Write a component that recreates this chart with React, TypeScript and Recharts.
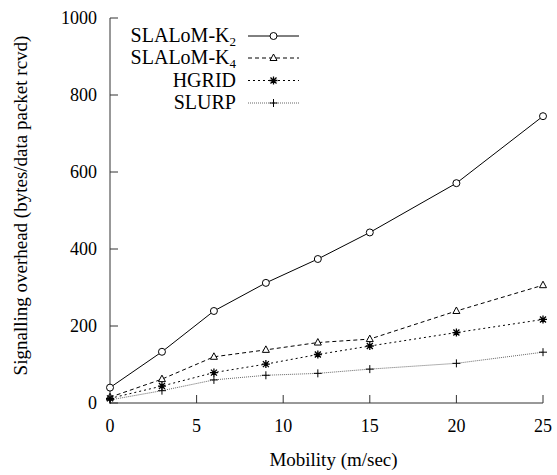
import React from "react";
import { LineChart, Line, XAxis, YAxis } from "recharts";

const MOBILITY = [0, 3, 6, 9, 12, 15, 20, 25];
const SLALOM_K2 = [40, 133, 239, 312, 374, 443, 571, 745];
const SLALOM_K4 = [15, 62, 120, 138, 157, 166, 239, 306];
const HGRID = [12, 44, 79, 101, 126, 148, 183, 217];
const SLURP = [8, 32, 60, 72, 77, 88, 103, 132];

const X_TICKS = [0, 5, 10, 15, 20, 25];
const Y_TICKS = [0, 200, 400, 600, 800, 1000];

const FONT = "Liberation Serif, Times New Roman, serif";
const AXIS = "#333";

const data = MOBILITY.map((m, i) => ({
  mobility: m,
  k2: SLALOM_K2[i],
  k4: SLALOM_K4[i],
  hgrid: HGRID[i],
  slurp: SLURP[i],
}));

type Pt = { cx?: number; cy?: number; index?: number };

function CircleMark({ cx, cy }: Pt) {
  if (cx == null || cy == null) return <g />;
  return <circle cx={cx} cy={cy} r={3.5} fill="#fff" stroke="#000" strokeWidth={1} />;
}

function TriangleMark({ cx, cy }: Pt) {
  if (cx == null || cy == null) return <g />;
  return (
    <polygon
      points={`${cx},${cy - 4} ${cx - 3.5},${cy + 2.5} ${cx + 3.5},${cy + 2.5}`}
      fill="#fff"
      stroke="#000"
      strokeWidth={1}
    />
  );
}

function StarMark({ cx, cy }: Pt) {
  if (cx == null || cy == null) return <g />;
  const d = `M${cx - 4},${cy}H${cx + 4}M${cx},${cy - 4}V${cy + 4}M${cx - 3},${cy - 3}L${cx + 3},${cy + 3}M${cx - 3},${cy + 3}L${cx + 3},${cy - 3}`;
  return <path d={d} stroke="#000" strokeWidth={1.3} fill="none" />;
}

function PlusMark({ cx, cy }: Pt) {
  if (cx == null || cy == null) return <g />;
  const d = `M${cx - 4},${cy}H${cx + 4}M${cx},${cy - 4}V${cy + 4}`;
  return <path d={d} stroke="#000" strokeWidth={1} fill="none" />;
}

const SERIES = [
  { key: "k2", name: "SLALoM-K", sub: "2", stroke: "#000", dash: undefined, Mark: CircleMark },
  { key: "k4", name: "SLALoM-K", sub: "4", stroke: "#000", dash: "4 3", Mark: TriangleMark },
  { key: "hgrid", name: "HGRID", sub: "", stroke: "#000", dash: "2 3", Mark: StarMark },
  { key: "slurp", name: "SLURP", sub: "", stroke: "#666", dash: "1 1", Mark: PlusMark },
];

const LEGEND_ROWS = [36, 58, 80.5, 103];

function LegendBox() {
  return (
    <svg
      width={557}
      height={120}
      style={{ position: "absolute", left: 0, top: 0, pointerEvents: "none" }}
    >
      {SERIES.map((s, i) => {
        const y = LEGEND_ROWS[i];
        const M = s.Mark;
        return (
          <g key={s.key}>
            <text x={236} y={y + 6} textAnchor="end" fontFamily={FONT} fontSize={20} fill="#000">
              {s.name}
              {s.sub && (
                <tspan fontSize={13} dy={4}>
                  {s.sub}
                </tspan>
              )}
            </text>
            <line x1={248} x2={299} y1={y} y2={y} stroke={s.stroke} strokeDasharray={s.dash} />
            <M cx={273.5} cy={y} />
          </g>
        );
      })}
    </svg>
  );
}

const noTick = () => <g />;

export default function App() {
  return (
    <div style={{ position: "absolute", left: 0, top: 0, width: 557, height: 475, background: "#fff" }}>
      <LineChart
        width={557}
        height={475}
        data={data}
        margin={{ top: 18, right: 14, bottom: 0, left: 0 }}
        style={{ fontFamily: FONT }}
      >
        <XAxis
          dataKey="mobility"
          type="number"
          domain={[0, 25]}
          ticks={X_TICKS}
          height={72}
          stroke={AXIS}
          tickSize={-8}
          tickMargin={24}
          tick={{ fill: "#000", fontSize: 18, fontFamily: FONT }}
          label={{
            value: "Mobility (m/sec)",
            position: "insideBottom",
            offset: 9,
            dx: 7,
            fill: "#000",
            fontSize: 19,
            fontFamily: FONT,
          }}
        />
        <XAxis
          xAxisId="top"
          orientation="top"
          dataKey="mobility"
          type="number"
          domain={[0, 25]}
          ticks={X_TICKS}
          height={0}
          stroke={AXIS}
          tickSize={-8}
          tick={noTick}
        />
        <YAxis
          type="number"
          domain={[0, 1000]}
          ticks={Y_TICKS}
          width={110}
          stroke={AXIS}
          tickSize={-8}
          tickMargin={21}
          tick={{ fill: "#000", fontSize: 18, fontFamily: FONT }}
          label={{
            value: "Signalling overhead (bytes/data packet rcvd)",
            angle: -90,
            position: "insideLeft",
            offset: 20,
            dy: -5,
            fill: "#000",
            fontSize: 19,
            fontFamily: FONT,
            style: { textAnchor: "middle" },
          }}
        />
        <YAxis
          yAxisId="right"
          orientation="right"
          type="number"
          domain={[0, 1000]}
          ticks={Y_TICKS}
          width={0}
          stroke={AXIS}
          tickSize={-8}
          tick={noTick}
        />
        {SERIES.map((s) => (
          <Line
            key={s.key}
            dataKey={s.key}
            name={s.name + s.sub}
            stroke={s.stroke}
            strokeWidth={1}
            strokeDasharray={s.dash}
            dot={(p: Pt) => <s.Mark key={`${s.key}-${p.index}`} cx={p.cx} cy={p.cy} />}
            activeDot={false}
            isAnimationActive={false}
          />
        ))}
      </LineChart>
      <LegendBox />
    </div>
  );
}
